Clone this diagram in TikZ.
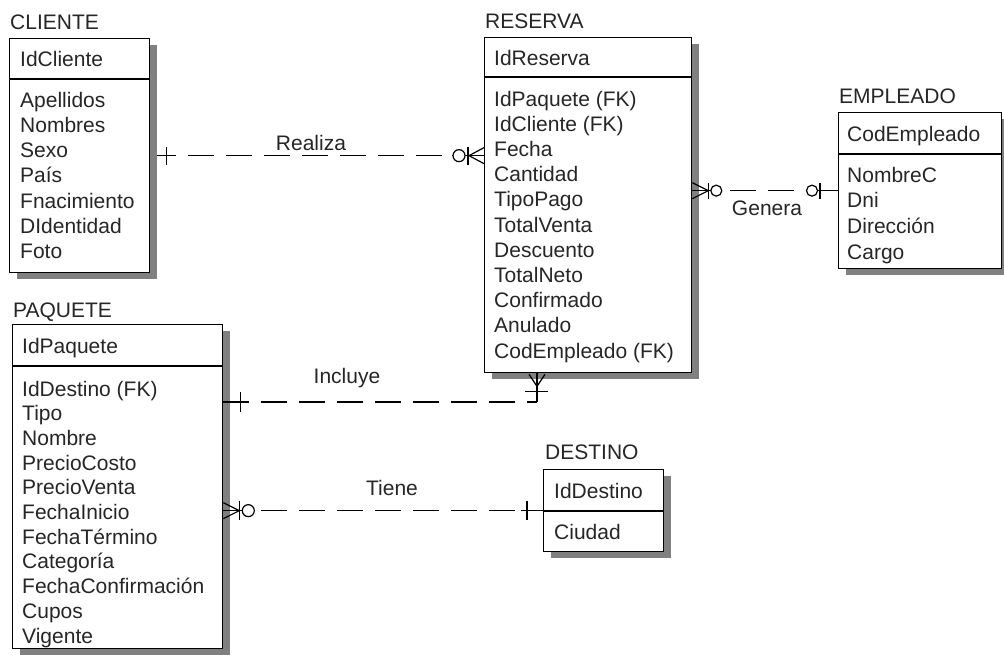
\documentclass[tikz,border=0pt]{standalone}
\usepackage{fontspec}
\setmainfont{Liberation Sans}
\usetikzlibrary{calc,shadows}
\pgfdeclarelayer{bg}
\pgfsetlayers{bg,main}
\newcommand\erfont{\fontsize{21}{24}\selectfont}
\begin{document}
\begin{tikzpicture}[x=1pt,y=-1pt,
  tbl/.style={draw=black, line width=1.3pt, fill=white, anchor=north west, inner sep=0pt,
              general shadow={fill=black!50, shadow xshift=7pt, shadow yshift=-6pt}},
  ttl/.style={anchor=base west, inner sep=0pt, font=\erfont, text=black!85},
  attr/.style={anchor=base west, inner sep=0pt, font=\erfont, text=black!85},
  lbl/.style={inner sep=0pt, font=\erfont, text=black!85},
  rel/.style={line width=1.2pt, dash pattern=on 26pt off 12pt},
  sym/.style={line width=1.2pt},
  hollow/.style={line width=1.2pt, draw=black, fill=white}
]
\useasboundingbox (0,0) rectangle (1004,664);
\begin{pgfonlayer}{bg}
\fill[white] (0,0) rectangle (1004,664);
\end{pgfonlayer}

% ---------- tables ----------
\node[tbl, minimum width=140pt, minimum height=234pt] (cliente) at (9,38) {};
\node[tbl, minimum width=207pt, minimum height=335pt] (reserva) at (484,37) {};
\node[tbl, minimum width=163pt, minimum height=156pt] (empleado) at (838,112) {};
\node[tbl, minimum width=210pt, minimum height=324pt] (paquete) at (12,324) {};
\node[tbl, minimum width=120pt, minimum height=82pt] (destino) at (543,469) {};

% dividers
\draw[line width=1.3pt] ($(cliente.north west)+(0,41)$) -- ($(cliente.north east)+(0,41)$);
\draw[line width=1.3pt] ($(reserva.north west)+(0,40)$) -- ($(reserva.north east)+(0,40)$);
\draw[line width=1.3pt] ($(empleado.north west)+(0,42)$) -- ($(empleado.north east)+(0,42)$);
\draw[line width=1.3pt] ($(paquete.north west)+(0,42)$) -- ($(paquete.north east)+(0,42)$);
\draw[line width=1.3pt] ($(destino.north west)+(0,42)$) -- ($(destino.north east)+(0,42)$);

% titles
\node[ttl] (tcliente) at (10,29) {CLIENTE};
\node[ttl] (treserva) at (485,28) {RESERVA};
\node[ttl] (templeado) at (839,103) {EMPLEADO};
\node[ttl] (tpaquete) at (13,317) {PAQUETE};
\node[ttl] (tdestino) at (545,459) {DESTINO};

% key attributes
\node[attr] (kcliente) at (20,66) {IdCliente};
\node[attr] (kreserva) at (494,65) {IdReserva};
\node[attr] (kempleado) at (847,141) {CodEmpleado};
\node[attr] (kpaquete) at (22,353) {IdPaquete};
\node[attr] (kdestino) at (554,498) {IdDestino};

% attributes
\foreach \t [count=\i from 0] in {Apellidos,Nombres,Sexo,País,Fnacimiento,DIdentidad,Foto}
  \node[attr] (c\i) at (20,{107+25.3*\i}) {\t};
\foreach \t [count=\i from 0] in {IdPaquete (FK),IdCliente (FK),Fecha,Cantidad,TipoPago,TotalVenta,Descuento,TotalNeto,Confirmado,Anulado,CodEmpleado (FK)}
  \node[attr] (r\i) at (494,{106+25.2*\i}) {\t};
\foreach \t [count=\i from 0] in {NombreC,Dni,Dirección,Cargo}
  \node[attr] (e\i) at (847,{182+25.8*\i}) {\t};
\foreach \t [count=\i from 0] in {IdDestino (FK),Tipo,Nombre,PrecioCosto,PrecioVenta,FechaInicio,FechaTérmino,Categoría,FechaConfirmación,Cupos,Vigente}
  \node[attr] (p\i) at (22,{396+24.7*\i}) {\t};
\node[attr] (d0) at (554,539) {Ciudad};

% ---------- connectors ----------
\coordinate (rR) at (cliente.east -| reserva.west);
\coordinate (gR) at (empleado.west -| reserva.east);
\coordinate (incl) at (537,402);
\coordinate (iP) at (paquete.east |- incl);
\coordinate (iS) at (incl |- reserva.south);
\coordinate (tP) at (paquete.east |- destino.west);

\begin{pgfonlayer}{bg}
\draw[rel] (cliente.east) -- (rR);
\draw[rel] (gR) -- (empleado.west);
\draw[rel] (iP) -- (incl);
\draw[rel] (tP) -- (destino.west);
\end{pgfonlayer}

% Realiza
\draw[sym] ($(cliente.east)+(16,-9)$) -- ($(cliente.east)+(16,9)$);
\draw[sym] ($(rR)+(-32,0)$) -- (rR);
\draw[sym] ($(rR)+(-16,-9)$) -- ($(rR)+(-16,9)$);
\draw[sym] ($(rR)+(0,-8)$) -- ($(rR)+(-15,0)$) -- ($(rR)+(0,8)$);
\draw[hollow] ($(rR)+(-25,0)$) circle[radius=6pt];
\node[lbl] (lrealiza) at (311,143) {Realiza};

% Genera
\draw[sym] (gR) -- ($(gR)+(30,0)$);
\draw[sym] ($(gR)+(0,-8)$) -- ($(gR)+(16,0)$) -- ($(gR)+(0,8)$);
\draw[sym] ($(gR)+(16,-8)$) -- ($(gR)+(16,8)$);
\draw[hollow] ($(gR)+(24,0)$) circle[radius=5.5pt];
\draw[sym] ($(empleado.west)+(-32,0)$) -- (empleado.west);
\draw[sym] ($(empleado.west)+(-18,-8)$) -- ($(empleado.west)+(-18,8)$);
\draw[hollow] ($(empleado.west)+(-26,0)$) circle[radius=5.5pt];
\node[lbl] (lgenera) at (767,208) {Genera};

% Incluye
\draw[sym] (iP) -- ($(iP)+(20,0)$);
\draw[sym] ($(iP)+(17,-10)$) -- ($(iP)+(17,10)$);
\draw[sym] (incl) -- (iS);
\draw[sym] ($(iS)+(-8,1)$) -- ($(iS)+(0,13)$) -- ($(iS)+(8,1)$);
\draw[sym] ($(iS)+(-12,18)$) -- ($(iS)+(11,18)$);
\node[lbl] (lincluye) at (347,378) {Incluye};

% Tiene
\draw[sym] (tP) -- ($(tP)+(32,0)$);
\draw[sym] ($(tP)+(0,-8)$) -- ($(tP)+(16,0)$) -- ($(tP)+(0,8)$);
\draw[sym] ($(tP)+(16,-10)$) -- ($(tP)+(16,9)$);
\draw[hollow] ($(tP)+(25,0)$) circle[radius=6pt];
\draw[sym] ($(destino.west)+(-22,0)$) -- (destino.west);
\draw[sym] ($(destino.west)+(-16,-10)$) -- ($(destino.west)+(-16,9)$);
\node[lbl] (ltiene) at (392,488) {Tiene};
\end{tikzpicture}
\end{document}
